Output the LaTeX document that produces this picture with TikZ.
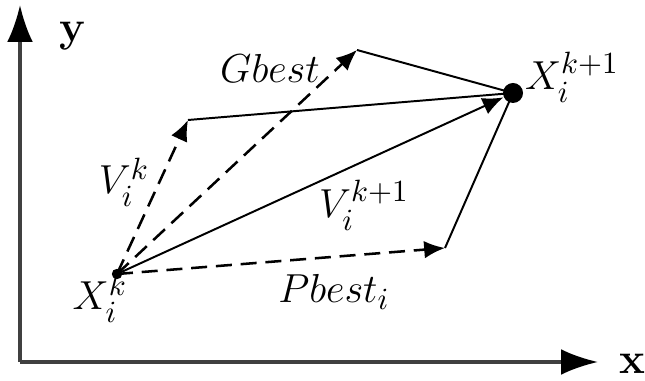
\documentclass[tikz,border=0pt]{standalone}
\usepackage{amsmath}
\usepackage{tikz}
\usetikzlibrary{arrows.meta, positioning}

\tikzset{
	pt/.style={circle, fill=black, inner sep=0pt, minimum size=#1},
	vec/.style={line width=0.7pt, -{Latex[length=0.26cm, width=0.22cm]}},
	dvec/.style={vec, line width=0.9pt, dash pattern=on 0.2cm off 0.11cm},
	seg/.style={line width=0.7pt},
	axis/.style={line width=1.1pt, black!75, -{Latex[length=0.46cm, width=0.32cm, black]}},
	lbl/.style={font=\fontsize{15.5}{18}\selectfont}
}

\begin{document}
\begin{tikzpicture}[x=0.0125cm, y=-0.0125cm]
				\useasboundingbox (0, 0) rectangle (645, 381);
				% Axes:
				\coordinate (o) at (20, 362);
				\coordinate (ytip) at (20, 5);
				\coordinate (xtip) at (598, 362);
				\draw[axis] (o) -- (ytip);
				\draw[axis] (o) -- (xtip);
				\node[lbl] (ylab) at (72, 36) {\textbf{y}};
				\node[lbl] (xlab) at (632, 364) {\textbf{x}};
				
				% Points and vector tips:
				\node[pt=0.13cm] (xk) at (117, 274) {};
				\node[pt=0.25cm] (xk1) at (513, 93) {};
				\coordinate (vk) at (188, 120);
				\coordinate (gb) at (357, 50);
				\coordinate (pb) at (445, 248);
				
				% Dashed vectors and the sums:
				\draw[dvec] (xk.center) -- (vk);
				\draw[dvec] (xk.center) -- (gb);
				\draw[dvec] (xk.center) -- (pb);
				\draw[seg] (vk) -- (xk1.center);
				\draw[seg] (gb) -- (xk1.center);
				\draw[seg] (pb) -- (xk1.center);
				\draw[vec] (xk.center) -- (xk1);
				
				% Labels:
				\node[lbl] (xkl) at (100, 298) {$X_i^{k}$};
				\node[lbl] (xk1l) at (572, 77) {$X_i^{k+1}$};
				\node[lbl] (vkl) at (124, 182) {$V_i^{k}$};
				\node[lbl] (vk1l) at (364, 205) {$V_i^{k+1}$};
				\node[lbl] (gbl) at (270, 68) {$Gbest$};
				\node[lbl] (pbl) at (334, 292) {$Pbest_i$};
\end{tikzpicture}
\end{document}
